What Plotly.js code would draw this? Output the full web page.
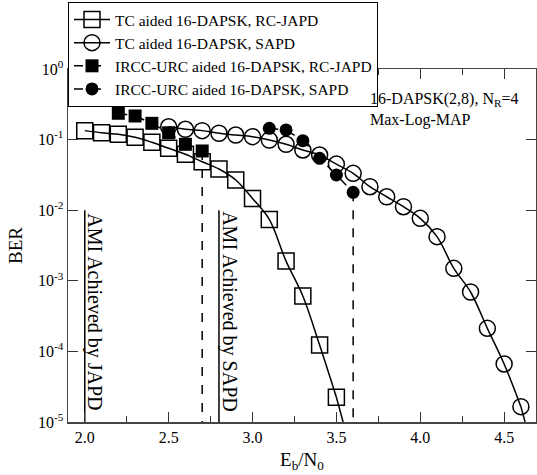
<!DOCTYPE html>
<html><head><meta charset="utf-8">
<script src="https://cdn.plot.ly/plotly-3.0.1.min.js"></script>
<style>body{margin:0;background:#fff}#c{width:537px;height:475px}</style>
</head><body><div id="c"></div>
<script>
// TC aided 16-DAPSK, RC-JAPD (open squares)
const tcJapdX = [2.0,2.1,2.2,2.3,2.4,2.5,2.6,2.7,2.8,2.9,3.0,3.1,3.2,3.3,3.4,3.5];
const tcJapdY = [0.134,0.125,0.119,0.108,0.0916,0.0753,0.062,0.0486,0.0383,0.0268,0.0147,0.0074,0.0019,0.00061,0.000123,0.0000224];
// TC aided 16-DAPSK, SAPD (open circles)
const tcSapdX = [2.5,2.6,2.7,2.8,2.9,3.0,3.1,3.2,3.3,3.4,3.5,3.6,3.7,3.8,3.9,4.0,4.1,4.2,4.3,4.4,4.5,4.6];
const tcSapdY = [0.152,0.14,0.134,0.123,0.116,0.11,0.0987,0.0858,0.0713,0.0605,0.045,0.0333,0.0215,0.0155,0.0112,0.00767,0.00422,0.0015,0.000694,0.000212,0.0000664,0.0000165];
// IRCC-URC aided 16-DAPSK, RC-JAPD (filled squares)
const irJapdX = [2.2,2.3,2.4,2.5,2.6,2.7];
const irJapdY = [0.236,0.216,0.17,0.125,0.0857,0.069];
// IRCC-URC aided 16-DAPSK, SAPD (filled circles)
const irSapdX = [3.1,3.2,3.3,3.4,3.5,3.6];
const irSapdY = [0.1445,0.137,0.0966,0.0543,0.0315,0.0179];
// where the fitted curves meet the bottom axis
const tcJapdEndX = 3.54, tcSapdEndX = 4.625;
// AMI thresholds (solid vertical lines)
const amiX = [2.0, 2.8];
const amiLabels = ['AMI Achieved by JAPD', 'AMI Achieved by SAPD'];
const yTickVals = [1,0.1,0.01,0.001,0.0001,0.00001];
const yTickText = ['10<sup>0</sup>','10<sup>-1</sup>','10<sup>-2</sup>','10<sup>-3</sup>','10<sup>-4</sup>','10<sup>-5</sup>'];
const yMin = 0.00001;

const F = 'Liberation Serif';
const traces = [];
// legend traces
traces.push({name:'TC aided 16-DAPSK, RC-JAPD', x: tcJapdX, y: tcJapdY, mode:'lines+markers', line:{color:'#000', width:1.5, shape:'spline'}, marker:{symbol:'square-open', size:16, color:'#000', line:{width:1.5,color:'#000'}}});
traces.push({name:'TC aided 16-DAPSK, SAPD', x: tcSapdX, y: tcSapdY, mode:'lines+markers', line:{color:'#000', width:1.5, shape:'spline'}, marker:{symbol:'circle-open', size:16, color:'#000', line:{width:1.5,color:'#000'}}});
traces.push({name:'IRCC-URC aided 16-DAPSK, RC-JAPD', x: irJapdX, y: irJapdY, mode:'lines+markers', line:{color:'#000', width:1.5, dash:'dash'}, marker:{symbol:'square', size:13, color:'#000'}});
traces.push({name:'IRCC-URC aided 16-DAPSK, SAPD', x: irSapdX, y: irSapdY, mode:'lines+markers', line:{color:'#000', width:1.5, dash:'dash'}, marker:{symbol:'circle', size:13, color:'#000'}});
// curve tails down to the axis
traces.push({x:[tcJapdX[tcJapdX.length-1], tcJapdEndX], y:[tcJapdY[tcJapdY.length-1], yMin], mode:'lines', line:{color:'#000', width:1.5}, showlegend:false, hoverinfo:'skip'});
traces.push({x:[tcSapdX[tcSapdX.length-1], tcSapdEndX], y:[tcSapdY[tcSapdY.length-1], yMin], mode:'lines', line:{color:'#000', width:1.5}, showlegend:false, hoverinfo:'skip'});
// vertical dashed drops from last IRCC-URC points
[[irJapdX, irJapdY],[irSapdX, irSapdY]].forEach(([xs, ys]) => {
  const n = xs.length - 1;
  traces.push({x:[xs[n], xs[n]], y:[ys[n], yMin], mode:'lines', line:{color:'#000', width:1.5, dash:'dash'}, showlegend:false, hoverinfo:'skip'});
});
// AMI lines
amiX.forEach(v => traces.push({x:[v,v], y:[0.01, yMin], mode:'lines', line:{color:'#000', width:1.5}, showlegend:false, hoverinfo:'skip'}));

const annotations = amiLabels.map((t, i) => ({x: amiX[i] + 0.058, y: -3.44, xref:'x', yref:'y', text:t, showarrow:false, textangle:90, font:{family:F, size:20, color:'#000'}}));
annotations.push({x:3.69, y:-0.58, xref:'x', yref:'y', xanchor:'left', yanchor:'middle', align:'left', showarrow:false,
  text:'16-DAPSK(2,8), N<sub>R</sub>=4<br>Max-Log-MAP', font:{family:F, size:16, color:'#000'}});

const layout = {
  width:537, height:475,
  margin:{l:68, r:1, t:69, b:53},
  paper_bgcolor:'#fff', plot_bgcolor:'#fff',
  font:{family:F, color:'#000', size:15},
  showlegend:true,
  legend:{x:0, y:1.19, xanchor:'left', yanchor:'top', bgcolor:'#fff', bordercolor:'#000', borderwidth:1, font:{family:F, size:15.5}, tracegroupgap:0, itemwidth:36},
  xaxis:{range:[1.9, 4.69], dtick:0.5, tick0:0, tickformat:'.1f', ticks:'inside', ticklen:10, tickcolor:'#333', showline:true, linecolor:'#444', linewidth:1.5, mirror:'ticks', showgrid:false, zeroline:false,
    minor:{dtick:0.25, ticks:'inside', ticklen:6, tickcolor:'#333', showgrid:false},
    tickfont:{family:F, size:16},
    title:{text:'E<sub>b</sub>/N<sub>0</sub>', font:{family:F, size:19}, standoff:8}},
  yaxis:{type:'log', range:[-5, 0], tickvals:yTickVals, ticktext:yTickText, ticks:'inside', ticklen:10, tickcolor:'#333', showline:true, linecolor:'#444', linewidth:1.5, mirror:'ticks', showgrid:false, zeroline:false,
    tickfont:{family:F, size:16},
    title:{text:'BER', font:{family:F, size:19}, standoff:10}},
  annotations: annotations
};
Plotly.newPlot('c', traces, layout, {staticPlot:true, displayModeBar:false});
</script></body></html>
